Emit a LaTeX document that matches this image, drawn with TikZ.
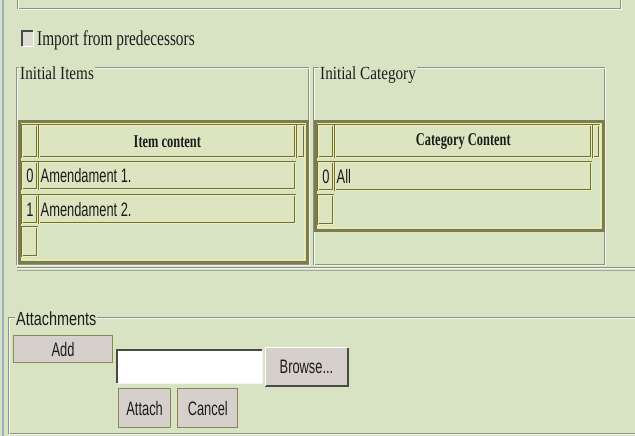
\documentclass[tikz,border=0pt]{standalone}
\usepackage{fontspec}
\setmainfont{Liberation Serif}[FakeStretch=0.82]
\newfontfamily\impserif{Liberation Serif}[FakeStretch=0.73]
\newfontfamily\hdserif{Liberation Serif}[FakeStretch=0.69]
\newfontfamily\uisans{Liberation Sans}[FakeStretch=0.66]
\newfontfamily\legsans{Liberation Sans}[FakeStretch=0.76]
\usepackage{tikz}
\usetikzlibrary{positioning}
\definecolor{pagebg}{HTML}{D8E3C4}
\definecolor{sideline}{HTML}{9FB0C4}
\definecolor{groovedark}{HTML}{8C9385}
\definecolor{groovelight}{HTML}{F3F7EA}
\definecolor{tabdark}{HTML}{7E7C4C}
\definecolor{tablight}{HTML}{F0F0A6}
\definecolor{celldark}{HTML}{6F6D43}
\definecolor{cellfill}{HTML}{DCE5C0}
\definecolor{btnfill}{HTML}{D6D0CC}
\definecolor{btnline}{HTML}{8C8752}
\definecolor{shadowgray}{HTML}{4A4A44}
\definecolor{inkblack}{HTML}{1C1C1C}
\newcommand{\uifont}{\uisans\fontsize{19.5}{21}\selectfont}
\newcommand{\sffont}{\fontsize{18.5}{20}\selectfont}
\newcommand{\hdfont}{\hdserif\fontsize{18}{20}\selectfont\bfseries}
\newcommand{\groove}[1]{\draw[groovedark, line width=0.9pt] #1; \draw[groovelight, line width=0.9pt, shift={(1,1)}] #1;}

\begin{document}
\begin{tikzpicture}[
  x=1pt, y=-1pt,
  legend/.style={fill=pagebg, inner xsep=1pt, inner ysep=0pt, anchor=base west, font=\sffont, text=inkblack},
  cell/.style={draw=celldark, fill=cellfill, line width=0.7pt, double=tablight, double distance=0.8pt, anchor=north west, inner sep=0pt, minimum width=#1, text=inkblack},
  celltext/.style={font=\uifont, text=inkblack, inner sep=0pt},
  tabframe/.style={draw=tabdark, line width=3pt},
  tabinner/.style={draw=tablight, line width=0.8pt},
  btn/.style={draw=btnline, fill=btnfill, line width=1.2pt, anchor=north west, inner sep=0pt, font=\uifont, text=inkblack},
]
  \useasboundingbox (0,0) rectangle (635,436);
  \fill[pagebg] (0,0) rectangle (635,436);
  \draw[sideline, line width=1.2pt] (3,0) -- (3,436);

  % Upper fieldset edge
  \groove{(17,0) |- (620,8) -- (620,0)}

  % Import checkbox
  \fill[btnfill!80!white] (22,31) rectangle (33,46);
  \draw[shadowgray, line width=1.6pt] (22,46) -- (22,31) -- (33,31);
  \draw[white, line width=0.8pt] (22.5,46) -- (33,46) -- (33,31.5);
  \node[anchor=base west, inner sep=0pt, font=\impserif\fontsize{21}{23}\selectfont, text=inkblack] (imp) at (37,46) {Import from predecessors};

  % Fieldsets
  \groove{(16,67) rectangle (308,264)}
  \groove{(313,67) rectangle (604,264)}
  \node[legend] (lgitems) at (19,80) {Initial Items};
  \node[legend] (lgcat) at (319,80) {Initial Category};

  % Initial Items table
  \draw[tabframe] (19,121) rectangle (307,262);
  \draw[tabinner] (21.5,123.5) rectangle (304.5,259.5);
  \node[cell=15pt, minimum height=32pt] (ih0) at (22,125) {};
  \node[cell=256pt, minimum height=32pt, font=\hdfont] (ihc) at (39,125) {Item content};
  \node[cell=7pt, minimum height=32pt] (ihs) at (297,125) {};
  \node[cell=15pt, minimum height=27pt] (ia0) at (22,162) {};
  \node[cell=256pt, minimum height=27pt] (ic0) at (39,162) {};
  \node[cell=15pt, minimum height=28pt] (ia1) at (22,195) {};
  \node[cell=256pt, minimum height=28pt] (ic1) at (39,195) {};
  \node[cell=15pt, minimum height=29pt] (ia2) at (22,227) {};
  \node[celltext] at (ia0) {0};
  \node[celltext] at (ia1) {1};
  \node[celltext, anchor=west, right=1.5pt of ic0.west] (it0) {Amendament 1.};
  \node[celltext, anchor=west, right=1.5pt of ic1.west] (it1) {Amendament 2.};

  % Initial Category table
  \draw[tabframe] (315,121) rectangle (603,230);
  \draw[tabinner] (317.5,123.5) rectangle (600.5,227.5);
  \node[cell=15pt, minimum height=32pt] (ch0) at (318,125) {};
  \node[cell=256pt, minimum height=32pt, font=\hdfont] (chc) at (335,125) {Category Content};
  \node[cell=6pt, minimum height=32pt] (chs) at (593,125) {};
  \node[cell=15pt, minimum height=28pt] (ca0) at (318,162) {};
  \node[cell=256pt, minimum height=28pt] (cc0) at (335,162) {};
  \node[cell=15pt, minimum height=29pt] (ca1) at (318,195) {};
  \node[celltext] at (ca0) {0};
  \node[celltext, anchor=west, right=1.5pt of cc0.west] (ct0) {All};

  % Rule
  \draw[groovedark, line width=1pt] (17,267) -- (635,267);
  \draw[groovelight, line width=1.2pt] (17,268.6) -- (635,268.6);
  \draw[groovedark!80!white, line width=1pt] (17,270) -- (635,270);

  % Attachments
  \groove{(635,317) -- (8,317) |- (635,433)}
  \node[legend, font=\legsans\fontsize{19}{21}\selectfont] (lgatt) at (15,325) {Attachments};
  \node[btn, minimum width=99pt, minimum height=27pt] (add) at (13,335) {Add};
  \node[draw=none, fill=white, anchor=north west, minimum width=145pt, minimum height=33pt, inner sep=0pt] (file) at (117,350) {};
  \draw[shadowgray, line width=2pt] (file.south west) |- (file.north east);
  \draw[groovelight, line width=1pt] (file.south west) -| (file.north east);
  \node[btn, draw=none, minimum width=81pt, minimum height=37pt, anchor=west, right=3pt of file] (browse) {Browse...};
  \draw[shadowgray, line width=2pt] (browse.south west) -| (browse.north east);
  \draw[white, line width=1.4pt] (browse.south west) |- (browse.north east);
  \node[btn, minimum width=52pt, minimum height=39pt] (attach) at (118,388) {Attach};
  \node[btn, minimum width=60pt, minimum height=39pt, anchor=west, right=6pt of attach] (cancel) {Cancel};
\end{tikzpicture}
\end{document}
